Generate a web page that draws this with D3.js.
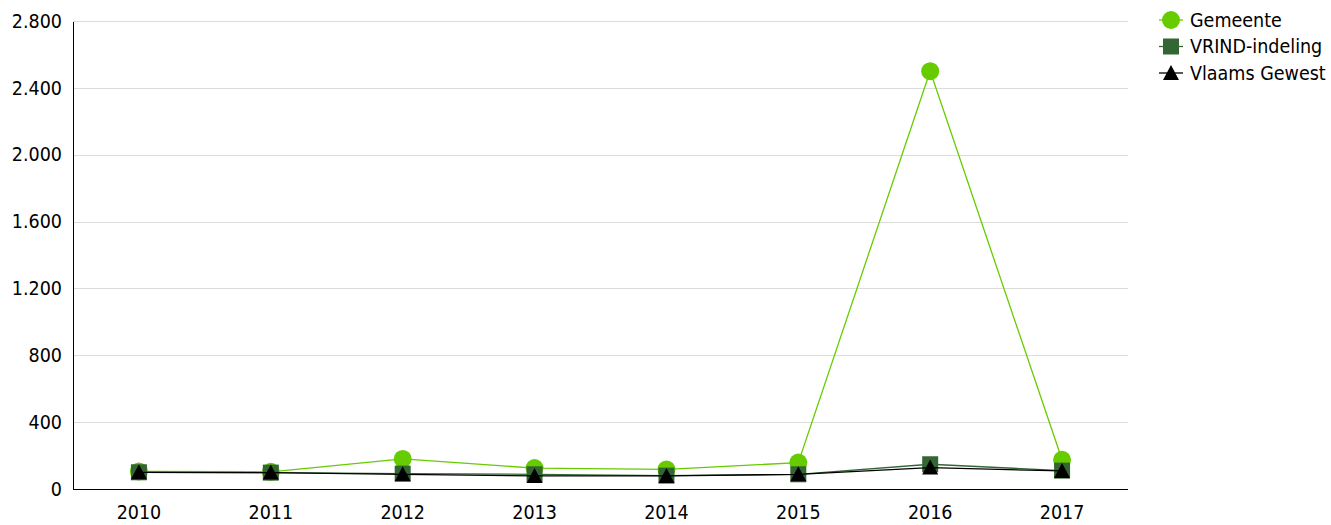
<!DOCTYPE html>
<html><head><meta charset="utf-8">
<script src="https://cdn.jsdelivr.net/npm/d3@7"></script>
<style>
body{margin:0;background:#fff;}
text{font-family:"DejaVu Sans Condensed","DejaVu Sans",sans-serif;fill:#000;}
</style></head>
<body><svg id="c" width="1331" height="525"></svg>
<script>
const years = ["2010","2011","2012","2013","2014","2015","2016","2017"];
const gemeente = [105, 103, 180, 125, 117, 158, 2500, 175];
const vrind = [100, 98, 92, 88, 80, 88, 148, 110];
const vlaams = [100, 98, 88, 78, 78, 88, 128, 108];
const yTicks = [0, 400, 800, 1200, 1600, 2000, 2400, 2800];
const seriesNames = ["Gemeente", "VRIND-indeling", "Vlaams Gewest"];

const FS = 19.5;
const svg = d3.select("#c");
const m = {l:73, r:1128, t:21, b:489};
const x = d3.scaleBand().domain(years).range([m.l, m.r]);
const y = d3.scaleLinear().domain([0, 2800]).range([m.b, m.t]);
const fmt = v => d3.format(",")(v).replace(/,/g, ".");

// grid
svg.append("g").selectAll("line").data(yTicks.filter(d=>d>0)).join("line")
  .attr("x1", m.l).attr("x2", m.r).attr("y1", d=>Math.round(y(d))+0.5).attr("y2", d=>Math.round(y(d))+0.5)
  .attr("stroke", "#dcdcdc").attr("stroke-width", 1);

// y axis
const ya = svg.append("g").attr("transform", `translate(${m.l},0)`)
  .call(d3.axisLeft(y).tickValues(yTicks).tickFormat(fmt).tickSize(0).tickPadding(11));
ya.attr("font-family", null).attr("font-size", null);
ya.select(".domain").attr("stroke", "#000").attr("shape-rendering","crispEdges");
ya.selectAll("text").attr("font-size", FS);

// x axis
const xa = svg.append("g").attr("transform", `translate(0,${m.b})`)
  .call(d3.axisBottom(x).tickSize(0).tickPadding(16));
xa.attr("font-family", null).attr("font-size", null);
xa.select(".domain").attr("stroke", "#000").attr("d", `M${m.l},0.5H${m.r}`).attr("shape-rendering","crispEdges");
xa.selectAll("text").attr("font-size", FS);

const cx = d => x(d) + x.bandwidth()/2;
const line = d3.line().x((d,i)=>cx(years[i])).y(d=>y(d));

const series = [
  {name: seriesNames[0], vals: gemeente, color: "#66cc00", shape: "circle"},
  {name: seriesNames[1], vals: vrind, color: "#336633", shape: "square"},
  {name: seriesNames[2], vals: vlaams, color: "#000000", shape: "triangle"}
];

function marker(g, shape, color, px, py) {
  if (shape === "circle") g.append("circle").attr("cx", px).attr("cy", py).attr("r", 9).attr("fill", color);
  else if (shape === "square") g.append("rect").attr("x", px-8).attr("y", py-8).attr("width", 16).attr("height", 16).attr("fill", color);
  else g.append("path").attr("d", `M${px},${py-8}L${px+8},${py+7}L${px-8},${py+7}Z`).attr("fill", color);
}

series.forEach(s => {
  const g = svg.append("g");
  g.append("path").datum(s.vals).attr("d", line).attr("fill", "none")
    .attr("stroke", s.color).attr("stroke-width", 1.3);
  s.vals.forEach((v,i) => marker(g, s.shape, s.color, cx(years[i]), y(v)));
});

// legend
const lg = svg.append("g");
series.forEach((s,i) => {
  const ly = 20 + i*26.5;
  lg.append("line").attr("x1", 1159).attr("x2", 1183).attr("y1", ly).attr("y2", ly)
    .attr("stroke", s.color).attr("stroke-width", 1.3);
  marker(lg, s.shape, s.color, 1171, ly);
  lg.append("text").attr("x", 1190).attr("y", ly).attr("dy", "0.35em")
    .attr("font-size", FS).text(s.name);
});
</script></body></html>
